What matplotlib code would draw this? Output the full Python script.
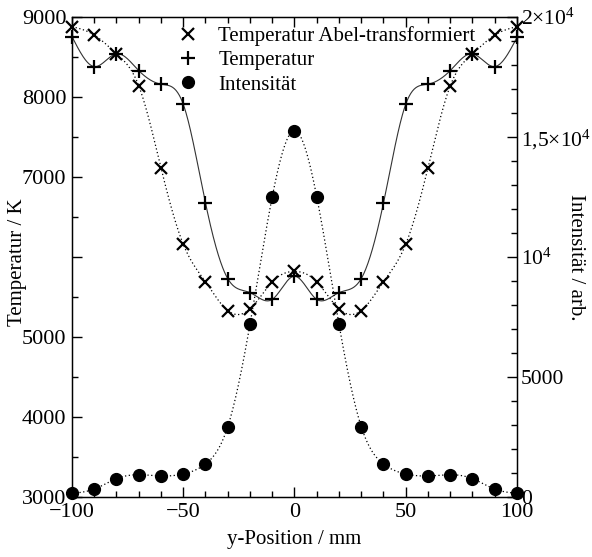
import numpy as np
import matplotlib
matplotlib.use("Agg")
import matplotlib.pyplot as plt
from matplotlib.ticker import MultipleLocator, FixedLocator, FixedFormatter

plt.rcParams['font.family'] = ['Liberation Serif', 'DejaVu Serif']
plt.rcParams['mathtext.fontset'] = 'custom'
plt.rcParams['mathtext.rm'] = 'Liberation Serif'
plt.rcParams['mathtext.it'] = 'Liberation Serif'
plt.rcParams['font.size'] = 16

# y-position in mm
position = [-100, -90, -80, -70, -60, -50, -40, -30, -20, -10, 0,
            10, 20, 30, 40, 50, 60, 70, 80, 90, 100]

# Abel-transformed temperature in K
temp_abel = [8880, 8775, 8540, 8140, 7115, 6160, 5690, 5330, 5350, 5690, 5820,
             5690, 5350, 5330, 5690, 6160, 7115, 8140, 8540, 8775, 8880]

# line-of-sight temperature in K
temp = [8755, 8380, 8540, 8330, 8160, 7910, 6675, 5730, 5555, 5470, 5760,
        5470, 5555, 5730, 6675, 7910, 8160, 8330, 8540, 8380, 8745]

# intensity in arbitrary units
intensity = [150, 330, 765, 930, 875, 960, 1375, 2930, 7195, 12510, 15265,
             12510, 7195, 2930, 1375, 960, 875, 930, 765, 330, 150]

left_ticks = [3000, 4000, 5000, 6000, 7000, 8000, 9000]
left_labels = ['3000', '4000', '5000', '', '7000', '8000', '9000']
right_ticks = [0, 5000, 10000, 15000, 20000]
right_labels = ['0', '5000', '10$^{4}$', '1,5×10$^{4}$', '2×10$^{4}$']


def natural_spline(x, y, xs):
    x = np.asarray(x, float)
    y = np.asarray(y, float)
    n = len(x)
    h = np.diff(x)
    A = np.zeros((n, n))
    b = np.zeros(n)
    A[0, 0] = 1.0
    A[-1, -1] = 1.0
    for i in range(1, n - 1):
        A[i, i - 1] = h[i - 1]
        A[i, i] = 2 * (h[i - 1] + h[i])
        A[i, i + 1] = h[i]
        b[i] = 6 * ((y[i + 1] - y[i]) / h[i] - (y[i] - y[i - 1]) / h[i - 1])
    M = np.linalg.solve(A, b)
    idx = np.clip(np.searchsorted(x, xs) - 1, 0, n - 2)
    x0, x1 = x[idx], x[idx + 1]
    hh = x1 - x0
    t0 = x1 - xs
    t1 = xs - x0
    return (M[idx] * t0 ** 3 / (6 * hh) + M[idx + 1] * t1 ** 3 / (6 * hh)
            + (y[idx] / hh - M[idx] * hh / 6) * t0
            + (y[idx + 1] / hh - M[idx + 1] * hh / 6) * t1)


fig = plt.figure(figsize=(5.92, 5.57), dpi=100)
ax = fig.add_axes([0.1216, 0.1077, 0.7517, 0.8618])
ax2 = ax.twinx()

xs = np.linspace(-100, 100, 801)

ax.plot(xs, natural_spline(position, temp_abel, xs), color='black', lw=0.9,
        ls=(0, (1, 2)))
ax.plot(xs, natural_spline(position, temp, xs), color='#333333', lw=0.8, ls='-')
ax2.plot(xs, natural_spline(position, intensity, xs), color='black', lw=0.9,
         ls=(0, (1, 2)))

h1, = ax.plot(position, temp_abel, ls='none', marker='x', ms=8.5, mew=1.6,
              color='black', label='Temperatur Abel-transformiert', clip_on=False)
h2, = ax.plot(position, temp, ls='none', marker='+', ms=10.5, mew=1.6,
              color='black', label='Temperatur', clip_on=False)
h3, = ax2.plot(position, intensity, ls='none', marker='o', ms=8.5,
               color='black', label='Intensität', clip_on=False)

ax.set_xlim(-100, 100)
ax.set_ylim(3000, 9000)
ax2.set_ylim(0, 20000)

ax.xaxis.set_major_locator(MultipleLocator(50))
ax.xaxis.set_minor_locator(MultipleLocator(10))
ax.yaxis.set_major_locator(FixedLocator(left_ticks))
ax.yaxis.set_major_formatter(FixedFormatter(left_labels))
ax.yaxis.set_minor_locator(MultipleLocator(500))
ax2.yaxis.set_major_locator(FixedLocator(right_ticks))
ax2.yaxis.set_major_formatter(FixedFormatter(right_labels))
ax2.yaxis.set_minor_locator(MultipleLocator(1000))

ax.tick_params(axis='x', which='both', direction='in', top=True, bottom=True)
ax.tick_params(axis='y', which='both', direction='in', left=True, right=False)
ax.tick_params(which='major', length=7, width=1, labelsize=16, pad=4)
ax.tick_params(which='minor', length=4, width=1)
ax2.tick_params(axis='y', which='both', direction='in')
ax2.tick_params(which='major', length=7, width=1, labelsize=15.5, pad=3)
ax2.tick_params(which='minor', length=4, width=1)

for s in ax.spines.values():
    s.set_linewidth(1.0)

ax.set_xlabel('y-Position / mm', fontsize=15, labelpad=6)
ax.set_ylabel('Temperatur / K', fontsize=15)
ax.yaxis.set_label_coords(-0.101, 0.49)
ax2.set_ylabel('Intensität / arb.', fontsize=15, rotation=-90)
ax2.yaxis.set_label_coords(1.153, 0.5)

leg = ax.legend(handles=[h1, h2, h3], loc='upper left',
                bbox_to_anchor=(0.228, 0.985), frameon=False, fontsize=15,
                handlelength=1.2, handletextpad=0.85, labelspacing=0.22,
                borderpad=0.1, borderaxespad=0.0, numpoints=1)

fig.savefig('out.png', dpi=100)
